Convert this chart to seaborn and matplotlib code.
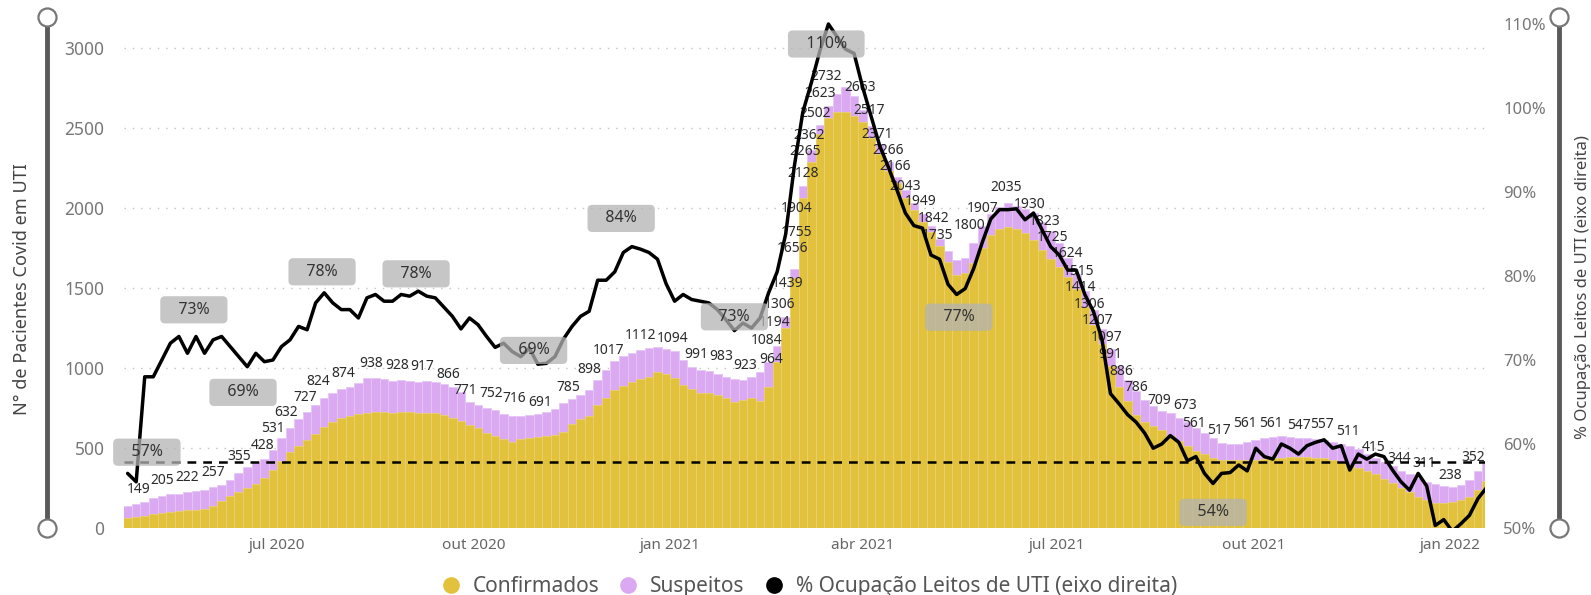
import numpy as np
import pandas as pd
import matplotlib
matplotlib.use('Agg')
import matplotlib.pyplot as plt
from matplotlib.lines import Line2D
import seaborn as sns

# Dados (leitura aproximada do gráfico, um ponto a cada 4 dias)
inicio = pd.Timestamp('2020-04-22')
datas = pd.date_range(inicio, periods=160, freq='4D')

total = [
    140, 150, 165, 185, 200, 210, 215, 222, 230, 240,
    255, 270, 300, 345, 380, 410, 430, 490, 560, 625,
    680, 725, 770, 815, 845, 870, 880, 905, 935, 940,
    930, 920, 925, 920, 915, 920, 915, 900, 880, 850,
    790, 770, 750, 737, 715, 698, 700, 708, 715, 725,
    745, 780, 805, 830, 860, 925, 990, 1045, 1075, 1095,
    1112, 1125, 1133, 1120, 1105, 1050, 1005, 985, 980, 965,
    946, 930, 928, 946, 975, 1040, 1140, 1320, 1620, 2140,
    2360, 2520, 2635, 2715, 2755, 2700, 2610, 2510, 2400, 2290,
    2196, 2110, 2030, 1960, 1890, 1805, 1730, 1675, 1690, 1779,
    1885, 1960, 2005, 2030, 2015, 1995, 1967, 1915, 1855, 1780,
    1690, 1590, 1480, 1360, 1245, 1120, 1010, 925, 855, 800,
    760, 730, 720, 690, 660, 625, 595, 560, 532, 525,
    528, 538, 550, 562, 570, 572, 571, 565, 560, 555,
    550, 540, 527, 512, 492, 465, 440, 410, 385, 358,
    335, 310, 290, 275, 263, 255, 268, 300, 355, 420,
]

confirmados = [
    62, 70, 78, 88, 95, 100, 105, 110, 113, 120,
    140, 170, 200, 222, 250, 275, 310, 360, 420, 475,
    515, 550, 590, 630, 660, 685, 700, 710, 718, 727,
    722, 717, 722, 727, 720, 717, 717, 706, 690, 670,
    645, 625, 595, 575, 555, 540, 555, 565, 570, 575,
    580, 600, 650, 680, 700, 770, 815, 860, 890, 915,
    930, 946, 975, 960, 940, 895, 870, 845, 844, 830,
    812, 785, 800, 812, 795, 880, 1040, 1250, 1560, 2060,
    2290, 2460, 2560, 2600, 2600, 2575, 2540, 2440, 2340, 2230,
    2154, 2060, 1990, 1915, 1850, 1760, 1660, 1580, 1595, 1654,
    1750, 1830, 1870, 1883, 1870, 1845, 1800, 1740, 1680, 1630,
    1570, 1495, 1380, 1270, 1150, 1010, 880, 795, 705, 665,
    640, 610, 578, 545, 512, 482, 460, 440, 427, 425,
    425, 425, 425, 430, 435, 440, 446, 446, 446, 440,
    436, 425, 412, 392, 372, 355, 335, 305, 280, 250,
    222, 195, 175, 158, 155, 162, 178, 196, 235, 295,
]

ocupacao = [
    56.5, 55.5, 68, 68, 70, 72, 72.8, 70.8, 72.8, 70.8,
    72.4, 72.8, 71.6, 70.4, 69.2, 70.8, 69.8, 70, 71.6, 72.4,
    74, 73.6, 76.8, 78, 76.8, 76, 76, 75, 77.4, 77.8,
    77, 77, 77.8, 77.6, 78.2, 77.6, 77.4, 76.3, 75.2, 73.7,
    75, 74.2, 72.8, 71.5, 72, 71, 70.4, 71.4, 69.5, 69.6,
    70.4, 72.5, 74, 75.2, 75.8, 79.5, 79.5, 80.5, 82.8, 83.5,
    83.2, 82.8, 82, 79.1, 77, 77.8, 77.2, 77, 76.8, 76,
    74.8, 73.5, 74.4, 73.8, 75, 78, 80.5, 85, 93, 99.5,
    103, 106.8, 110, 108.5, 107, 106.5, 102.5, 99, 95.5, 93,
    90.3, 87.5, 86, 85.7, 82.5, 82, 79, 77.8, 78.5, 80.9,
    84, 86.8, 87.9, 87.9, 88, 86.7, 87.5, 85.5, 83.5, 82.5,
    80.7, 80.7, 77.8, 75.8, 72.5, 66, 64.8, 63.5, 62.6, 61.3,
    59.5, 60, 61, 60.2, 58, 58.5, 56.5, 55.3, 56.5, 56.6,
    57.5, 56.8, 59.5, 58.5, 58.2, 60, 59.5, 58.8, 59.8, 60.2,
    60.5, 59.5, 59.8, 56.9, 58.8, 58.2, 58.8, 58.5, 56.9, 55.5,
    54.5, 56.5, 55, 50.3, 51, 49.6, 50.5, 51.5, 53.5, 54.8,
]

# rótulos de total (Confirmados + Suspeitos)
rotulos_total = [149, 205, 222, 257, 355, 428, 531, 632, 727, 824,
                 874, 938, 928, 917, 866, 771, 752, 716, 691, 785,
                 898, 1017, 1112, 1094, 991, 983, 923, 964, 1084, 1194,
                 1306, 1439, 1656, 1755, 1904, 2128, 2265, 2362, 2502, 2623,
                 2732, 2663, 2517, 2371, 2266, 2166, 2043, 1949, 1842, 1735,
                 1800, 1907, 2035, 1930, 1823, 1725, 1624, 1515, 1414, 1306,
                 1207, 1097, 991, 886, 786, 709, 673, 561, 517, 561,
                 561, 547, 557, 511, 415, 344, 311, 238, 352]
rotulos_dia = [5, 16, 28, 40, 52, 63, 68, 74, 83, 89,
               101, 114, 126, 138, 150, 158, 170, 181, 193, 206,
               216, 225, 240, 255, 266, 278, 289, 301, 299, 303,
               305, 309, 311, 313, 313, 316, 317, 319, 322, 324,
               327, 343, 347, 351, 356, 359, 364, 371, 377, 379,
               394, 400, 411, 422, 429, 433, 440, 445, 446, 450,
               454, 458, 460, 465, 472, 483, 495, 499, 511, 523,
               535, 548, 559, 571, 583, 595, 607, 619, 630]

# rótulos de % de ocupação (máximos / mínimos)
pct_rotulos = [57, 73, 69, 78, 78, 69, 84, 73, 110, 77, 54]
pct_dia = [9, 31, 54, 91, 135, 190, 231, 284, 327, 389, 508]
pct_desloc = [17, 25, -24, 21, 19, 18, 24, 18, -20, -16, -18]  # em pixels

meses = ['jul 2020', 'out 2020', 'jan 2021', 'abr 2021', 'jul 2021', 'out 2021', 'jan 2022']
meses_datas = ['2020-07-01', '2020-10-01', '2021-01-01', '2021-04-01',
               '2021-07-01', '2021-10-01', '2022-01-01']

referencia = 57.9

amarelo = '#E2C23C'
roxo = '#DAA9F2'

df = pd.DataFrame({
    'dia': (datas - inicio).days,
    'total': total,
    'confirmados': confirmados,
    'ocupacao': ocupacao,
})

sns.set_theme(style='white')
plt.rcParams['font.family'] = ['Noto Sans', 'DejaVu Sans']

W, H = 1591, 595
fig = plt.figure(figsize=(W / 100, H / 100), dpi=100)
ax = fig.add_axes([124 / W, 67 / H, 1361 / W, 506 / H])

# barras encostadas, com bordas claras finas para imitar as listras diárias
sns.barplot(data=df, x='dia', y='total', native_scale=True, color=roxo, width=1.0,
            errorbar=None, saturation=1, linewidth=0.6, edgecolor='#E6C6F6', ax=ax, zorder=2)
sns.barplot(data=df, x='dia', y='confirmados', native_scale=True, color=amarelo, width=1.0,
            errorbar=None, saturation=1, linewidth=0.6, edgecolor='#E9D170', ax=ax, zorder=3)

for v, d in zip(rotulos_total, rotulos_dia):
    ax.annotate(str(v), (d, v), xytext=(0, 14.5), textcoords='offset pixels',
                ha='center', va='center', fontsize=10, color='#2b2b2b', zorder=5)

ax2 = ax.twinx()
sns.lineplot(data=df, x='dia', y='ocupacao', color='black', linewidth=2.5, ax=ax2, zorder=4)
ax2.axhline(referencia, color='black', lw=1.8, ls=(0, (3.5, 2.8)), zorder=3)

for p, d, off in zip(pct_rotulos, pct_dia, pct_desloc):
    ax2.annotate(f'   {p}%   ', (d, p), xytext=(0, off), textcoords='offset pixels',
                 ha='center', va='center', fontsize=11.5, color='#333333', zorder=6,
                 bbox=dict(boxstyle='round,pad=0.35,rounding_size=0.3',
                           fc='#b3b3b3', ec='none', alpha=0.75))

# eixos
ax.set_ylim(0, 3162.5)
ax.set_yticks(range(0, 3001, 500))
ax2.set_ylim(50, 110.24)
ax2.set_yticks(range(50, 111, 10))
ax2.set_yticklabels([f'{v}%' for v in range(50, 111, 10)])

pos = (pd.to_datetime(meses_datas) - inicio).days
ax.set_xticks(pos)
ax.set_xticklabels(meses)
ax.set_xlim(-1.7, 635.3)

ax.set_xlabel('')
ax.set_ylabel('')
ax2.set_ylabel('')
ax.tick_params(axis='y', length=0, pad=14, labelsize=12.5, labelcolor='#777777')
ax2.tick_params(axis='y', length=0, pad=13, labelsize=12, labelcolor='#777777')
ax.tick_params(axis='x', length=0, pad=7, labelsize=11, labelcolor='#666666')

ax.grid(axis='y', ls=(0, (1, 5)), color='#c4c4c4', lw=1.0)
ax.grid(axis='x', visible=False)
ax.set_axisbelow(True)
for a in (ax, ax2):
    for s in a.spines.values():
        s.set_visible(False)

fig.text(22 / W, 1 - 289 / H, 'N° de Pacientes Covid em UTI', rotation=90,
         ha='center', va='center', fontsize=13, color='#444444')
fig.text(1583 / W, 1 - 287 / H, '% Ocupação Leitos de UTI (eixo direita)', rotation=90,
         ha='center', va='center', fontsize=12, color='#444444')

# controles deslizantes dos eixos
for xs in (47, 1559):
    xf = xs / W
    fig.add_artist(Line2D([xf, xf], [1 - 17 / H, 1 - 528 / H], transform=fig.transFigure,
                          color='#5a5a5a', lw=3.5, solid_capstyle='butt'))
    fig.add_artist(Line2D([xf, xf], [1 - 17 / H, 1 - 528 / H], transform=fig.transFigure,
                          ls='', marker='o', markersize=13, markerfacecolor='white',
                          markeredgecolor='#777777', markeredgewidth=1.6))

handles = [Line2D([], [], ls='', marker='o', markersize=11, color=amarelo),
           Line2D([], [], ls='', marker='o', markersize=11, color=roxo),
           Line2D([], [], ls='', marker='o', markersize=11, color='black')]
fig.legend(handles, ['Confirmados', 'Suspeitos', '% Ocupação Leitos de UTI (eixo direita)'],
           loc='center', bbox_to_anchor=(0.505, 0.014), ncol=3, frameon=False,
           fontsize=15, handletextpad=0.05, columnspacing=0.4, labelcolor='#555555')

fig.savefig('out.png', dpi=100)
